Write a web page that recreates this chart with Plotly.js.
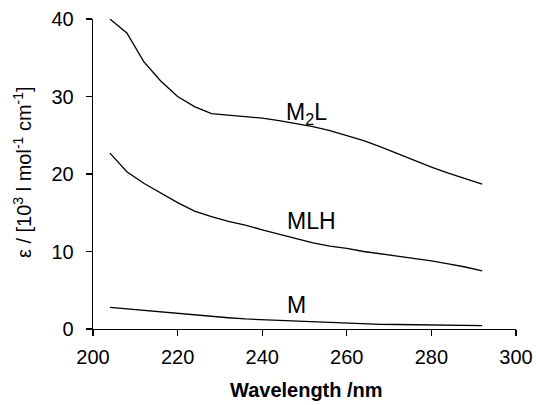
<!DOCTYPE html>
<html>
<head>
<meta charset="utf-8">
<script src="https://cdn.plot.ly/plotly-3.0.1.min.js"></script>
<style>html,body{margin:0;padding:0;background:#fff;}#chart{width:536px;height:405px;}</style>
</head>
<body>
<div id="chart"></div>
<script>
const wavelength = [204,208,212,216,220,224,228,232,236,240,244,248,252,256,260,264,268,272,276,280,284,288,292];
const epsM2L = [40.0,38.2,34.5,32.0,30.0,28.7,27.8,27.6,27.4,27.2,26.9,26.5,26.1,25.6,25.0,24.3,23.5,22.6,21.7,20.9,20.1,19.4,18.7];
const epsMLH = [22.7,20.3,18.8,17.5,16.3,15.2,14.5,13.9,13.4,12.8,12.2,11.6,11.1,10.7,10.4,10.0,9.7,9.4,9.1,8.8,8.4,8.0,7.5];
const epsM = [2.8,2.6,2.4,2.2,2.0,1.8,1.6,1.45,1.3,1.2,1.1,1.0,0.95,0.85,0.75,0.68,0.6,0.58,0.55,0.52,0.48,0.45,0.43];
const seriesNames = ['M<sub>2</sub>L','MLH','M'];
const labelPos = [[245.2,27.8],[245.4,13.9],[245.4,3.1]];
const xTitle = '<b>Wavelength /nm</b>';
const yTitle = 'ε / [10<sup>3</sup> l mol<sup>-1</sup> cm<sup>-1</sup>]';

const lineStyle = {color:'#000', width:1.3};
const traces = [epsM2L, epsMLH, epsM].map((ys,i)=>({
  x: wavelength, y: ys, type:'scatter', mode:'lines', line: lineStyle, name: seriesNames[i], hoverinfo:'none'
}));

const font = {family:'"Liberation Sans", Arial, sans-serif', color:'#000'};
const annotations = seriesNames.map((n,i)=>({
  x: labelPos[i][0], y: labelPos[i][1], xref:'x', yref:'y', text:n, showarrow:false,
  xanchor:'left', yanchor:'middle', font:{family:font.family, size:23, color:'#000'}
}));
annotations.push({
  x: -0.168, y: 0.506, xref:'paper', yref:'paper', text: yTitle, showarrow:false, textangle:-90,
  xanchor:'center', yanchor:'middle', font:{family:font.family, size:20, color:'#000'}
});
annotations.push({
  x: 0.504, y: -0.239, xref:'paper', yref:'paper', text: xTitle, showarrow:false,
  xanchor:'center', yanchor:'bottom', font:{family:font.family, size:20, color:'#000'}
});
const layout = {
  width:536, height:405,
  margin:{l:93, r:20, t:19, b:76},
  paper_bgcolor:'#fff', plot_bgcolor:'#fff',
  showlegend:false,
  font: font,
  xaxis:{
    range:[200,300], tickvals:[200,220,240,260,280,300], ticktext:['200','220','240','260','280','300'],
    showgrid:false, zeroline:false, showline:true, linecolor:'#000', linewidth:1.3,
    ticks:'outside', ticklen:6, tickwidth:1.3, tickcolor:'#000', ticklabelstandoff:4,
    tickfont:{family:font.family, size:20, color:'#000'}
  },
  yaxis:{
    range:[0,40], tickvals:[0,10,20,30,40], ticktext:['0','10','20','30','40'],
    showgrid:false, zeroline:false, showline:true, linecolor:'#000', linewidth:1.3,
    ticks:'outside', ticklen:6, tickwidth:1.3, tickcolor:'#000', ticklabelstandoff:8,
    tickfont:{family:font.family, size:20, color:'#000'}
  },
  annotations: annotations
};
Plotly.newPlot('chart', traces, layout, {displayModeBar:false, staticPlot:true});
</script>
</body>
</html>
